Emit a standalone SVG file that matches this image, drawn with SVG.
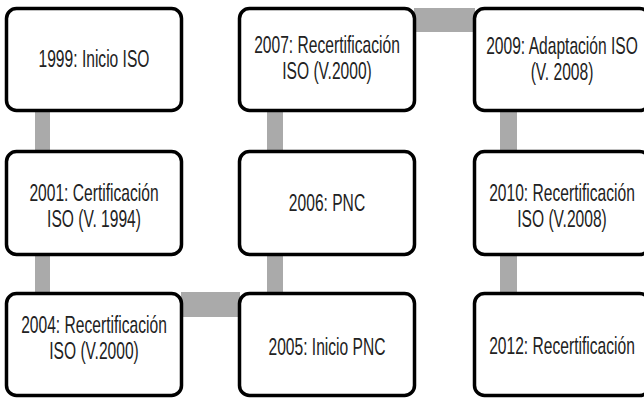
<svg xmlns="http://www.w3.org/2000/svg" width="644" height="398" viewBox="0 0 644 398">
  <style>
    .box { fill: #ffffff; stroke: #000000; stroke-width: 3.5; }
    .bar { fill: #aaaaaa; stroke: none; }
    .lbl { font-family: "Liberation Sans", Arial, sans-serif; font-size: 24px; fill: #222222; text-anchor: middle; }
  </style>
  <rect width="644" height="398" fill="#ffffff"/>
  <g id="connectors">
    <rect class="bar" x="35" y="110" width="15" height="42"/>
    <rect class="bar" x="35" y="254" width="15" height="40"/>
    <rect class="bar" x="181" y="292" width="59" height="25"/>
    <rect class="bar" x="267" y="254" width="16" height="40"/>
    <rect class="bar" x="267" y="110" width="16" height="42"/>
    <rect class="bar" x="414" y="8" width="61" height="24"/>
    <rect class="bar" x="500" y="110" width="17" height="42"/>
    <rect class="bar" x="500" y="254" width="17" height="40"/>
  </g>
  <g id="n1999">
    <rect class="box" x="6.5" y="8.5" width="175" height="102" rx="10"/>
    <text class="lbl" transform="translate(94,67) scale(0.65,1)">1999: Inicio ISO</text>
  </g>
  <g id="n2001">
    <rect class="box" x="6.5" y="151.5" width="175" height="103" rx="10"/>
    <text class="lbl" transform="translate(94,201) scale(0.65,1)">2001: Certificación</text>
    <text class="lbl" transform="translate(94,227) scale(0.65,1)">ISO (V. 1994)</text>
  </g>
  <g id="n2004">
    <rect class="box" x="6.5" y="293.5" width="175" height="102" rx="10"/>
    <text class="lbl" transform="translate(94,333) scale(0.65,1)">2004: Recertificación</text>
    <text class="lbl" transform="translate(94,359) scale(0.65,1)">ISO (V.2000)</text>
  </g>
  <g id="n2005">
    <rect class="box" x="239.5" y="293.5" width="175" height="102" rx="10"/>
    <text class="lbl" transform="translate(327,355) scale(0.65,1)">2005: Inicio PNC</text>
  </g>
  <g id="n2006">
    <rect class="box" x="239.5" y="151.5" width="175" height="103" rx="10"/>
    <text class="lbl" transform="translate(327,211) scale(0.65,1)">2006: PNC</text>
  </g>
  <g id="n2007">
    <rect class="box" x="239.5" y="8.5" width="175" height="102" rx="10"/>
    <text class="lbl" transform="translate(327,53) scale(0.65,1)">2007: Recertificación</text>
    <text class="lbl" transform="translate(327,79) scale(0.65,1)">ISO (V.2000)</text>
  </g>
  <g id="n2009">
    <rect class="box" x="474.5" y="8.5" width="175" height="102" rx="10"/>
    <text class="lbl" transform="translate(562,54) scale(0.65,1)">2009: Adaptación ISO</text>
    <text class="lbl" transform="translate(562,80) scale(0.65,1)">(V. 2008)</text>
  </g>
  <g id="n2010">
    <rect class="box" x="474.5" y="151.5" width="175" height="103" rx="10"/>
    <text class="lbl" transform="translate(562,201) scale(0.65,1)">2010: Recertificación</text>
    <text class="lbl" transform="translate(562,227) scale(0.65,1)">ISO (V.2008)</text>
  </g>
  <g id="n2012">
    <rect class="box" x="474.5" y="293.5" width="175" height="102" rx="10"/>
    <text class="lbl" transform="translate(562,354) scale(0.65,1)">2012: Recertificación</text>
  </g>
</svg>
